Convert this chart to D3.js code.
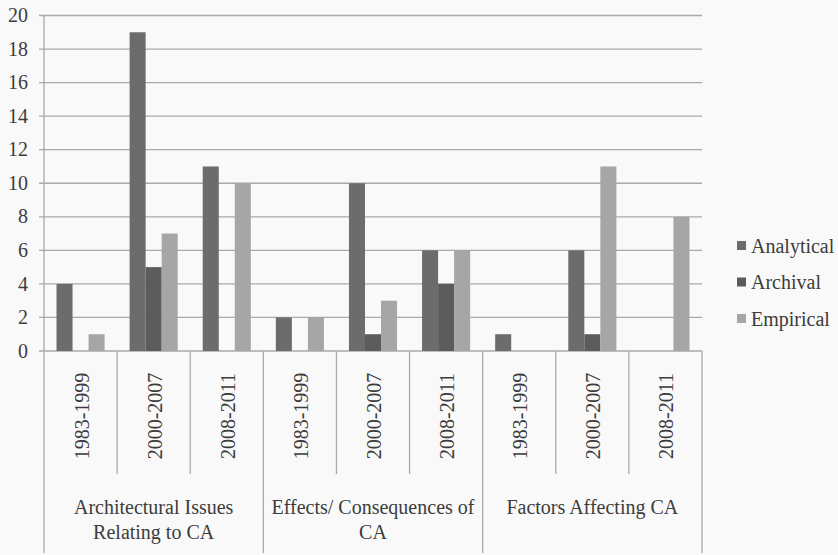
<!DOCTYPE html>
<html>
<head>
<meta charset="utf-8">
<script src="https://cdn.jsdelivr.net/npm/d3@7"></script>
<style>
  body { margin: 0; background: #f9f9f9; }
  svg { display: block; }
</style>
</head>
<body>
<svg id="chart" width="838" height="555"></svg>
<script>
// 데이터
const categories = ["Architectural Issues\nRelating to CA", "Effects/ Consequences of\nCA", "Factors Affecting CA"];
const periods = ["1983-1999", "2000-2007", "2008-2011"];
const seriesNames = ["Analytical", "Archival", "Empirical"];
const analytical = [4, 19, 11, 2, 10, 6, 1, 6, 0];
const archival   = [0, 5, 0, 0, 1, 4, 0, 1, 0];
const empirical  = [1, 7, 10, 2, 3, 6, 0, 11, 8];
const yTicks = [0, 2, 4, 6, 8, 10, 12, 14, 16, 18, 20];

const colors = ["#6c6c6c", "#5c5c5c", "#a6a6a6"];
const seriesValues = [analytical, archival, empirical];
const serif = "'Liberation Serif', Tinos, 'Times New Roman', Times, 'Noto Serif', 'DejaVu Serif', FreeSerif, serif";
const textColor = "#3c3c3c";

const svg = d3.select("#chart")
    .style("font-family", serif);
const plotLeft = 44, plotRight = 702, plotTop = 15.5, zero = 351;

// 9개 묶음 (범주 x 기간)
const slots = [];
categories.forEach((c, ci) => periods.forEach((p, pi) => slots.push({ key: ci * 3 + pi, cat: ci, period: p })));

const x = d3.scaleBand().domain(slots.map(d => d.key)).range([plotLeft, plotRight]).paddingInner(0).paddingOuter(0);
const inner = d3.scaleBand().domain(seriesNames).range([0, x.bandwidth()]).paddingInner(0).paddingOuter(0.78);
const y = d3.scaleLinear().domain([0, 20]).range([zero, plotTop]);

// 격자선
svg.append("g")
    .selectAll("line")
    .data(yTicks)
    .enter()
    .append("line")
    .attr("x1", plotLeft - 5)
    .attr("x2", plotRight)
    .attr("y1", d => y(d))
    .attr("y2", d => y(d))
    .attr("stroke", "#a9a9a9")
    .attr("stroke-width", 1.3);

// y축 눈금 글자
svg.append("g")
    .selectAll("text")
    .data(yTicks)
    .enter()
    .append("text")
    .attr("x", 28)
    .attr("y", d => y(d))
    .attr("dy", "0.33em")
    .attr("text-anchor", "end")
    .style("font-family", serif)
    .style("font-size", "20px")
    .style("fill", textColor)
    .text(d => d);

// y축 선
svg.append("line")
    .attr("x1", plotLeft).attr("x2", plotLeft)
    .attr("y1", plotTop).attr("y2", zero)
    .attr("stroke", "#a9a9a9").attr("stroke-width", 1.3);

// 막대
seriesNames.forEach((name, si) => {
    svg.append("g")
        .selectAll("rect")
        .data(slots)
        .enter()
        .append("rect")
        .attr("x", d => x(d.key) + inner(name))
        .attr("width", inner.bandwidth())
        .attr("y", d => y(seriesValues[si][d.key]))
        .attr("height", d => zero - y(seriesValues[si][d.key]))
        .attr("fill", colors[si]);
});

// 아래쪽 구분선
svg.append("g")
    .selectAll("line")
    .data(d3.range(10))
    .enter()
    .append("line")
    .attr("x1", i => i < 9 ? x(i) : plotRight)
    .attr("x2", i => i < 9 ? x(i) : plotRight)
    .attr("y1", zero)
    .attr("y2", i => i % 3 === 0 ? 553 : 474)
    .attr("stroke", "#a9a9a9")
    .attr("stroke-width", 1.3);

// 기간 글자 (세로)
svg.append("g")
    .selectAll("text")
    .data(slots)
    .enter()
    .append("text")
    .attr("transform", d => `translate(${x(d.key) + x.bandwidth() / 2 + 8},416) rotate(-90)`)
    .attr("text-anchor", "middle")
    .style("font-family", serif)
    .style("font-size", "20px")
    .style("fill", textColor)
    .text(d => d.period);

// 범주 글자
categories.forEach((c, ci) => {
    const cx = (x(ci * 3) + (ci < 2 ? x(ci * 3 + 3) : plotRight)) / 2;
    const t = svg.append("text")
        .attr("text-anchor", "middle")
        .style("font-family", serif)
        .style("font-size", "20px")
        .style("fill", textColor);
    c.split("\n").forEach((line, li) => {
        t.append("tspan")
            .attr("x", cx)
            .attr("y", 514 + li * 25)
            .text(line);
    });
});

// 범례
const legend = svg.append("g");
seriesNames.forEach((name, si) => {
    const ly = 246 + si * 36.5;
    legend.append("rect")
        .attr("x", 737).attr("y", ly - 5)
        .attr("width", 9).attr("height", 9)
        .attr("fill", colors[si]);
    legend.append("text")
        .attr("x", 751).attr("y", ly)
        .attr("dy", "0.33em")
        .style("font-family", serif)
        .style("font-size", "20px")
        .style("fill", textColor)
        .text(name);
});
</script>
</body>
</html>
